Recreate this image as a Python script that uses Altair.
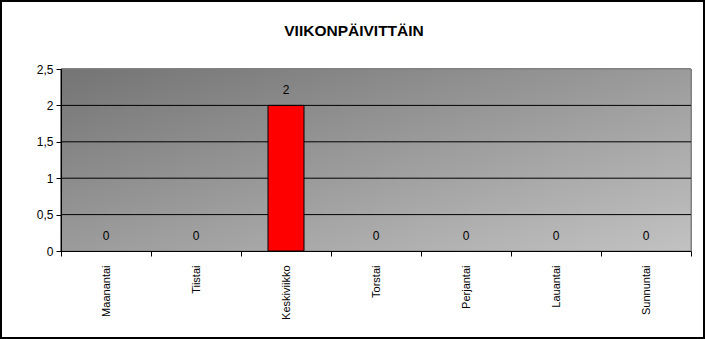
import altair as alt
import pandas as pd

days = ["Maanantai", "Tiistai", "Keskiviikko", "Torstai", "Perjantai", "Lauantai", "Sunnuntai"]
counts = [0, 0, 2, 0, 0, 0, 0]
grid_values = [0.5, 1, 1.5, 2]
y_ticks = [0, 0.5, 1, 1.5, 2, 2.5]
title_text = "VIIKONPÄIVITTÄIN"

W, H = 630, 182
PAD_L, PAD_T = 61, 69
FONT = "Liberation Sans"

df = pd.DataFrame({"day": days, "count": counts})
grid_df = pd.DataFrame({"count": grid_values})
title_df = pd.DataFrame({"t": [title_text]})

x_scale = alt.Scale(paddingInner=0, paddingOuter=0)
x_axis = alt.Axis(labelAngle=-90, tickBand="extent", tickSize=5, tickColor="black",
                  domainColor="black", labelPadding=9, labelFont=FONT, labelFontSize=11,
                  labelColor="black", grid=False, zindex=1)
y_scale = alt.Scale(domain=[0, 2.5], nice=False)
y_axis = alt.Axis(values=y_ticks, tickSize=5, tickColor="black", domainColor="black",
                  labelPadding=3, labelFont=FONT, labelFontSize=12, labelColor="black",
                  labelOverlap=False, labelBound=False,
                  labelExpr="replace(format(datum.value, '.1~f'), '.', ',')", grid=False, zindex=1)

x_enc = alt.X("day:N", sort=days, title=None, scale=x_scale, axis=x_axis)
y_enc = alt.Y("count:Q", title=None, scale=y_scale, axis=y_axis)

bg = alt.Chart(df).mark_rect(
    fill=alt.Gradient(
        gradient="linear",
        stops=[alt.GradientStop(color="#747474", offset=0), alt.GradientStop(color="#c2c2c2", offset=1)],
        x1=0, y1=0, x2=1, y2=1,
    ),
    stroke="#808080", strokeWidth=1,
).encode(x=alt.value(0), x2=alt.value(W), y=alt.value(0), y2=alt.value(H))

grid = alt.Chart(grid_df).mark_rule(color="black", strokeWidth=1).encode(y=y_enc)

bars = alt.Chart(df).mark_bar(
    color="#ff0000", stroke="black", strokeWidth=1, width=alt.RelativeBandSize(0.4)
).encode(
    x=x_enc, y=y_enc,
    strokeOpacity=alt.condition("datum.count > 0", alt.value(1), alt.value(0)),
)

labels = alt.Chart(df).mark_text(baseline="bottom", dy=-8, font=FONT, fontSize=12, color="black").encode(
    x=x_enc, y=y_enc, text="count:Q",
)

title = alt.Chart(title_df).mark_text(
    font=FONT, fontSize=15.5, fontWeight="bold", color="black", align="center", baseline="alphabetic"
).encode(x=alt.value(354 - PAD_L), y=alt.value(36 - PAD_T), text="t:N")

frame = alt.Chart(df).mark_rect(fill=None, stroke="black", strokeWidth=2).encode(
    x=alt.value(1 - PAD_L), x2=alt.value(704 - PAD_L),
    y=alt.value(1 - PAD_T), y2=alt.value(338 - PAD_T),
)

chart = alt.layer(bg, grid, bars, labels, title, frame).properties(
    width=W, height=H,
    autosize=alt.AutoSizeParams(type="none"),
    padding={"left": PAD_L, "top": PAD_T, "right": 706 - PAD_L - W, "bottom": 339 - PAD_T - H},
).configure_view(stroke=None).configure(background="white")

chart.save("out.html", embed_options={"renderer": "svg", "actions": False})
